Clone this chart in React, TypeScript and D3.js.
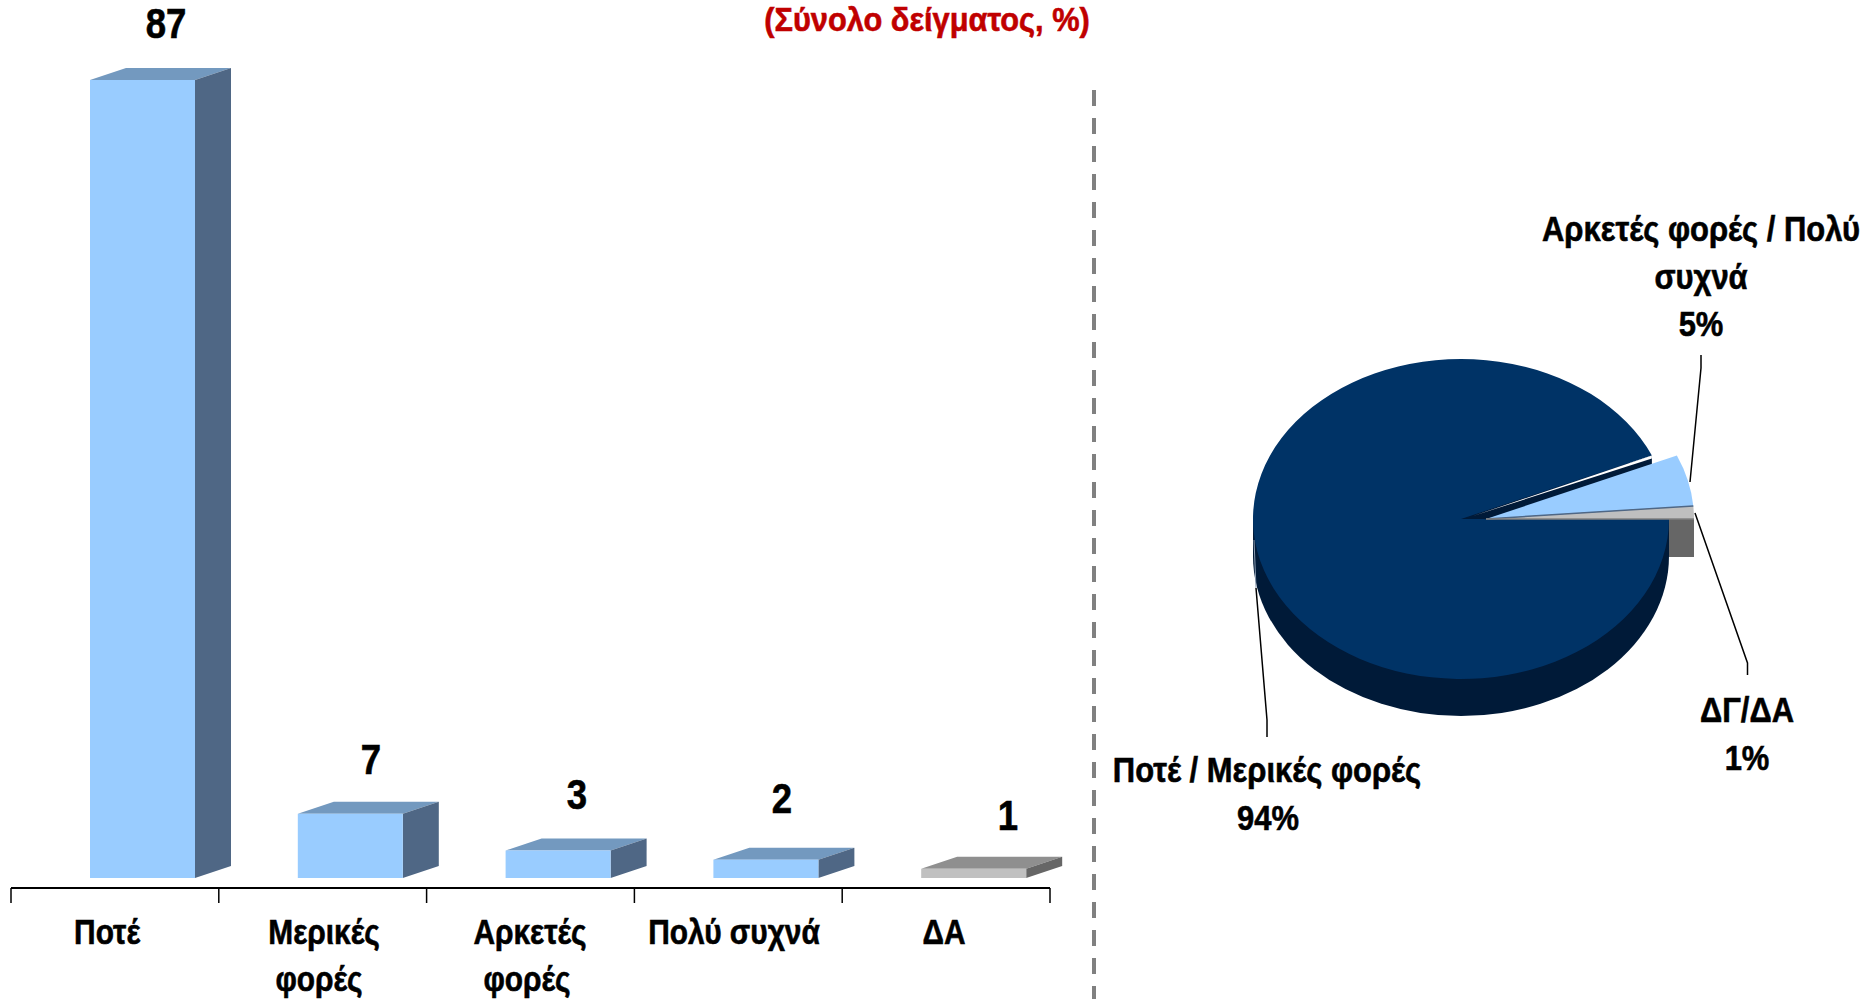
import React from "react";
import * as d3 from "d3";

const categories = ["Ποτέ", "Μερικές φορές", "Αρκετές φορές", "Πολύ συχνά", "ΔΑ"];
const barValues = [87, 7, 3, 2, 1];
const barLabelLines = [["Ποτέ"], ["Μερικές", "φορές"], ["Αρκετές", "φορές"], ["Πολύ συχνά"], ["ΔΑ"]];
const pieNames = ["ΔΓ/ΔΑ", "Αρκετές φορές / Πολύ συχνά", "Ποτέ / Μερικές φορές"];
const pieValues = [1.3, 5.2, 93.5];
const title = "(Σύνολο δείγματος, %)";

const FONT = "'Liberation Sans', Arial, sans-serif";
const BASE = 878;
const y = d3.scaleLinear().domain([0, 87]).range([BASE, 80]);
const x = d3.scaleBand<string>().domain(categories).range([11, 1050]);
const BAR_OFF = 79, BAR_W = 105, DX = 36, DY = 12;

const catCenters = [[107], [324, 319], [530, 527], [734], [944]];
const valCenters = [166, 371, 577, 782, 1008];
const valY = [38, 774, 809, 813, 830];

const cx = 1461, cy = 519, rx = 208, ry = 160, depth = 37, explode = 25;
const pie = d3.pie<number>().sort(null).startAngle(Math.PI / 2).endAngle(Math.PI / 2 - 2 * Math.PI);
const arcs = pie(pieValues);
const arc = d3.arc<any>().innerRadius(0).outerRadius(rx);
const ky = ry / rx;

function T({ x, y, children, size = 36, sx = 0.83, fill = "#000" }: any) {
  return (
    <text transform={`translate(${x},${y}) scale(${sx},1)`} textAnchor="middle" fontFamily={FONT}
      fontWeight="bold" fontSize={size} fill={fill} stroke={fill} strokeWidth={0.6}>{children}</text>
  );
}

function Bar({ i }: { i: number }) {
  const v = barValues[i];
  const x0 = x(categories[i])! + BAR_OFF;
  const x1 = x0 + BAR_W;
  const yt = y(v);
  const grey = categories[i] === "ΔΑ";
  const c = grey ? ["#c0c0c0", "#8f8f8f", "#666666"] : ["#99ccff", "#7399bf", "#4f6785"];
  return (
    <g>
      <path d={`M${x0},${yt}L${x0 + DX},${yt - DY}L${x1 + DX},${yt - DY}L${x1},${yt}Z`} fill={c[1]} />
      <path d={`M${x1},${yt}L${x1 + DX},${yt - DY}L${x1 + DX},${BASE - DY}L${x1},${BASE}Z`} fill={c[2]} />
      <rect x={x0} y={yt} width={BAR_W} height={BASE - yt} fill={c[0]} />
    </g>
  );
}

export default function App() {
  const ticks = [...categories.map((c) => x(c)!), 1050];
  const [grey, blue, navy] = arcs;
  const a = navy.startAngle;
  const ex = cx + rx * Math.sin(a), ey = cy - ry * Math.cos(a);
  return (
    <svg width={1864} height={999} style={{ position: "absolute", left: 0, top: 0, background: "#fff", display: "block" }}>
      <T x={927} y={31} size={34} sx={0.905} fill="#c00000">{title}</T>

      {categories.map((_, i) => <Bar key={i} i={i} />)}
      <line x1={11} x2={1050} y1={888} y2={888} stroke="#000" strokeWidth={2} />
      {ticks.map((t, i) => <line key={i} x1={t} x2={t} y1={888} y2={903} stroke="#000" strokeWidth={1.5} />)}
      {barValues.map((v, i) => <T key={i} x={valCenters[i]} y={valY[i]} size={43} sx={0.85}>{v}</T>)}
      {barLabelLines.map((ls, i) => ls.map((l, j) => (
        <T key={l + i} x={catCenters[i][j]} y={944 + j * 47}>{l}</T>
      )))}

      <line x1={1094} x2={1094} y1={90} y2={999} stroke="#808080" strokeWidth={4} strokeDasharray="16 12" />

      {/* pie: extrusion */}
      <rect x={cx + explode} y={cy} width={rx} height={38} fill="#666666" />
      <g transform={`translate(${cx},${cy + depth}) scale(1,${ky})`}>
        <circle r={rx} fill="#001a38" />
      </g>
      <rect x={cx - rx} y={cy} width={2 * rx} height={depth} fill="#001a38" />
      <path d={`M${cx},${cy}L${ex},${ey}L${ex},${ey + depth}L${cx},${cy + depth}Z`} fill="#001a38" />
      <g transform={`translate(${cx},${cy}) scale(1,${ky})`}>
        <path d={arc(navy)!} fill="#003366" />
      </g>
      <path d={`M${cx + 12},${cy - 3}L${ex},${ey}L${ex},${ey + 3}Z`} fill="#fff" />
      <g transform={`translate(${cx + explode},${cy}) scale(1,${ky})`}>
        <path d={arc(blue)!} fill="#99ccff" />
        <path d={arc(grey)!} fill="#bfbfbf" />
      </g>
      <line x1={cx + explode} y1={cy} x2={cx + explode + rx * Math.sin(grey.endAngle)} y2={cy - ry * Math.cos(grey.endAngle)} stroke="#4f6785" strokeWidth={1.5} />
      <line x1={cx + explode} y1={cy} x2={cx + explode + rx} y2={cy} stroke="#808080" strokeWidth={1.5} />

      {/* leaders */}
      <path d="M1254,540L1256,588" fill="none" stroke="#8a9bb0" strokeWidth={1} />
      <path d="M1701,355L1701,368L1690,482" fill="none" stroke="#000" strokeWidth={1.5} />
      <path d="M1695,513L1747.5,663L1747.5,675" fill="none" stroke="#000" strokeWidth={1.5} />
      <path d="M1256,588L1267,720L1267,737" fill="none" stroke="#000" strokeWidth={1.5} />

      <T x={1701} y={241} sx={0.86}>{"Αρκετές φορές / Πολύ"}</T>
      <T x={1701} y={289} sx={0.86}>{"συχνά"}</T>
      <T x={1701} y={336} sx={0.86}>{Math.round(pieValues[1]) + "%"}</T>
      <T x={1747} y={722} sx={0.86}>{pieNames[0]}</T>
      <T x={1747} y={770} sx={0.86}>{Math.round(pieValues[0]) + "%"}</T>
      <T x={1267} y={782} sx={0.86}>{pieNames[2]}</T>
      <T x={1268} y={830} sx={0.86}>{Math.round(pieValues[2]) + "%"}</T>
    </svg>
  );
}
